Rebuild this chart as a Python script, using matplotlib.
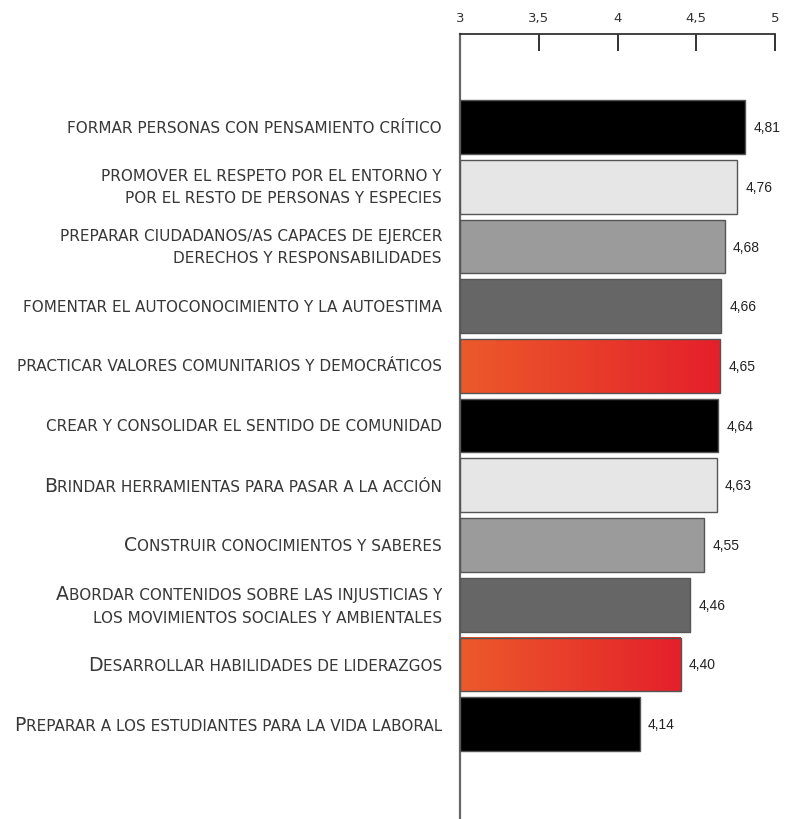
import matplotlib
matplotlib.use("Agg")
import matplotlib.pyplot as plt
import numpy as np
from matplotlib.offsetbox import TextArea, HPacker, VPacker, AnnotationBbox
from matplotlib.colors import LinearSegmentedColormap

# ---- data ----
# uppercase letters = full caps, lowercase letters = small caps
labels = [
    "formar personas con pensamiento crítico",
    "promover el respeto por el entorno y\npor el resto de personas y especies",
    "preparar ciudadanos/as capaces de ejercer\nderechos y responsabilidades",
    "fomentar el autoconocimiento y la autoestima",
    "practicar valores comunitarios y democráticos",
    "crear y consolidar el sentido de comunidad",
    "Brindar herramientas para pasar a la acción",
    "Construir conocimientos y saberes",
    "Abordar contenidos sobre las injusticias y\nlos movimientos sociales y ambientales",
    "Desarrollar habilidades de liderazgos",
    "Preparar a los estudiantes para la vida laboral",
]
values = [4.81, 4.76, 4.68, 4.66, 4.65, 4.64, 4.63, 4.55, 4.46, 4.40, 4.14]
value_labels = ["4,81", "4,76", "4,68", "4,66", "4,65", "4,64", "4,63", "4,55", "4,46", "4,40", "4,14"]
tick_values = [3, 3.5, 4, 4.5, 5]
tick_labels = ["3", "3,5", "4", "4,5", "5"]
fill_cycle = ["#000000", "#e6e6e6", "#9b9b9b", "#666666", "gradient"]

W, H = 785, 820
fig = plt.figure(figsize=(W / 100, H / 100), dpi=100)
ax = fig.add_axes([460 / W, 0, (775 - 460) / W, (820 - 35) / H])

n = len(values)
grad_cmap = LinearSegmentedColormap.from_list("g", ["#ec5a2b", "#e4202a"])

for i, (v, vl) in enumerate(zip(values, value_labels)):
    f = fill_cycle[i % len(fill_cycle)]
    if f == "gradient":
        ax.imshow(np.linspace(0, 1, 256).reshape(1, -1), cmap=grad_cmap, aspect="auto",
                  extent=[3, v, i + 0.45, i - 0.45], zorder=2, interpolation="bilinear")
        ax.barh(i, v - 3, left=3, height=0.9, facecolor="none", edgecolor="#555555",
                linewidth=1, zorder=3)
    else:
        ax.barh(i, v - 3, left=3, height=0.9, color=f, edgecolor="#555555",
                linewidth=1, zorder=3)
    ax.annotate(vl, xy=(v, i), xytext=(6, 0), textcoords="offset points",
                ha="left", va="center", fontsize=10, color="#222222",
                family="Liberation Sans")

ax.set_xlim(3, 5)
ax.set_ylim(11.59, -1.56)

# spines & ticks
for s in ["right", "bottom"]:
    ax.spines[s].set_visible(False)
ax.spines["top"].set_color("#333333")
ax.spines["top"].set_linewidth(1.3)
ax.spines["left"].set_color("#666666")
ax.spines["left"].set_linewidth(1.6)
ax.xaxis.tick_top()
ax.set_xticks(tick_values)
ax.set_xticklabels(tick_labels, fontsize=9.5, color="#333333", family="DejaVu Sans")
ax.tick_params(axis="x", direction="in", length=12.5, width=1.3, color="#222222", pad=7)
ax.set_yticks([])


def small_caps_line(line):
    # split into runs of large caps / small caps
    runs = []
    for ch in line:
        big = ch.isupper()
        if runs and runs[-1][0] == big:
            runs[-1][1] += ch
        else:
            runs.append([big, ch])
    boxes = []
    for big, txt in runs:
        boxes.append(TextArea(txt.upper(), textprops=dict(
            fontsize=13.6 if big else 11.0, color="#383838", family="DejaVu Sans",
            fontweight="normal")))
    if len(boxes) == 1:
        return boxes[0]
    return HPacker(children=boxes, align="baseline", pad=0, sep=0)


for i, lab in enumerate(labels):
    lines = [small_caps_line(l) for l in lab.split("\n")]
    box = lines[0] if len(lines) == 1 else VPacker(children=lines, align="right", pad=0, sep=5)
    ab = AnnotationBbox(box, xy=(0, i), xycoords=ax.get_yaxis_transform(),
                        xybox=(-13, 0), boxcoords="offset points",
                        box_alignment=(1, 0.5), frameon=False, pad=0,
                        annotation_clip=False)
    ax.add_artist(ab)

fig.savefig("out.png", dpi=100)
